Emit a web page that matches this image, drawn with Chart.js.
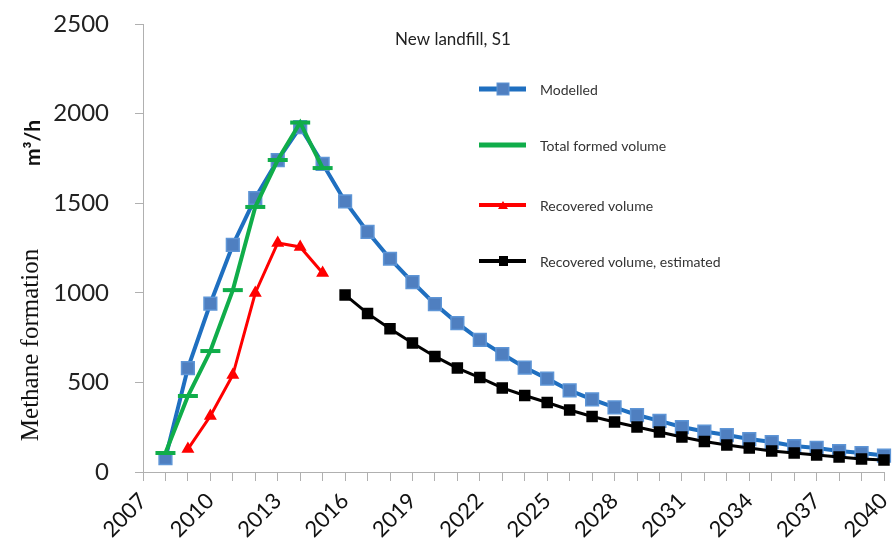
<!DOCTYPE html>
<html>
<head>
<meta charset="utf-8">
<script src="https://cdn.jsdelivr.net/npm/chart.js@4"></script>
<style>
  html, body { margin: 0; padding: 0; background: #fff; }
  #wrap { width: 892px; height: 549px; }
</style>
</head>
<body>
<div id="wrap"><canvas id="chart" width="892" height="549"></canvas></div>
<script>
const years = []
for (let y = 2007; y <= 2040; y++) years.push(String(y))

// values, m3/h, one per year (null = no point)
const modelled = [null, 78, 580, 940, 1267, 1529, 1741, 1925, 1720, 1510, 1340, 1190, 1060, 937, 831, 737, 658, 583, 521, 455, 405, 360, 318, 285, 251, 226, 206, 184, 167, 145, 134, 117, 106, 92]
const totalFormed = [null, 106, 424, 675, 1015, 1479, 1741, 1950, 1696]
const recovered = [null, null, 128, 312, 541, 999, 1278, 1256, 1110]
const estimated = [null, null, null, null, null, null, null, null, null, 988, 885, 800, 720, 645, 580, 527, 469, 427, 388, 346, 310, 279, 251, 223, 195, 170, 151, 134, 117, 106, 95, 84, 73, 67]

const yTicks = [0, 500, 1000, 1500, 2000, 2500]
const seriesNames = ['Modelled', 'Total formed volume', 'Recovered volume', 'Recovered volume, estimated']

const ctx = document.querySelector('#chart')
const FONT = 'Lato, "Open Sans", sans-serif'

// legend, title and axis title drawn by hand where the picture has them
const extras = {
    id: 'extras',
    afterDraw(chart) {
        const c = chart.ctx
        c.save()
        c.fillStyle = '#222'
        c.textAlign = 'center'
        c.textBaseline = 'middle'
        c.font = '17px ' + FONT
        c.fillText('New landfill, S1', 453, 40)

        const rows = [89, 145, 205, 261]
        chart.data.datasets.forEach((ds, i) => {
            const y = rows[i]
            c.strokeStyle = ds.borderColor
            c.lineWidth = ds.borderWidth + 1
            c.beginPath()
            c.moveTo(479, y)
            c.lineTo(526, y)
            c.stroke()
            if (i === 0) {
                c.fillStyle = ds.pointBackgroundColor
                c.strokeStyle = ds.pointBorderColor
                c.lineWidth = 1
                c.fillRect(497, y - 6, 12, 12)
                c.strokeRect(497, y - 6, 12, 12)
            } else if (i === 2) {
                c.fillStyle = ds.borderColor
                c.beginPath()
                c.moveTo(503, y - 4)
                c.lineTo(508, y + 4)
                c.lineTo(498, y + 4)
                c.closePath()
                c.fill()
            } else if (i === 3) {
                c.fillStyle = '#000'
                c.fillRect(499, y - 5, 9, 10)
            }
            c.fillStyle = '#333'
            c.textAlign = 'left'
            c.font = '14px ' + FONT
            c.fillText(ds.label, 540, y + 1)
        })

        c.translate(31, 0)
        c.rotate(-Math.PI / 2)
        c.textAlign = 'center'
        c.fillStyle = '#111'
        c.font = '25px "Liberation Serif", "Times New Roman", serif'
        c.fillText('Methane formation', -345, 0)
        c.font = 'bold 21px ' + FONT
        c.fillText('m³/h', -143, 2)
        c.restore()
    }
}

const data = {
    labels: years,
    datasets: [{
        label: seriesNames[0],
        data: modelled,
        borderColor: '#1f6fc0',
        borderWidth: 4,
        pointStyle: 'rect',
        pointRadius: 9,
        pointBackgroundColor: '#4f7fc0',
        pointBorderColor: '#5e95d6',
        pointBorderWidth: 1.5,
        order: 3
    }, {
        label: seriesNames[1],
        data: totalFormed,
        borderColor: '#10ad4a',
        borderWidth: 4,
        pointStyle: 'line',
        pointRadius: 10,
        pointBorderColor: '#10ad4a',
        pointBorderWidth: 4,
        order: 2
    }, {
        label: seriesNames[2],
        data: recovered,
        borderColor: '#ff0000',
        borderWidth: 3,
        pointStyle: 'triangle',
        pointRadius: 4.5,
        pointBackgroundColor: '#ff0000',
        pointBorderColor: '#ff0000',
        order: 1
    }, {
        label: seriesNames[3],
        data: estimated,
        borderColor: '#000',
        borderWidth: 3,
        pointStyle: 'rect',
        pointRadius: 6,
        pointBackgroundColor: '#000',
        pointBorderColor: '#000',
        order: 0
    }]
}

const config = {
    type: 'line',
    data: data,
    plugins: [extras],
    options: {
        responsive: false,
        animation: false,
        spanGaps: false,
        // big markers would otherwise push the plot area in
        layout: { autoPadding: false, padding: { top: 24, right: 8, left: 0, bottom: 0 } },
        scales: {
            x: {
                offset: false,
                afterFit(scale) {
                    scale.height = 77
                    scale.paddingLeft = 0
                    scale.paddingRight = 0
                },
                grid: {
                    drawOnChartArea: false,
                    color: '#b0b0b0',
                    tickLength: 9
                },
                border: { color: '#b0b0b0' },
                ticks: {
                    autoSkip: false,
                    minRotation: 45,
                    maxRotation: 45,
                    padding: 7,
                    color: '#111',
                    font: { family: FONT, size: 22 },
                    callback: function (value, index) {
                        return index % 3 === 0 ? years[index] : ''
                    }
                }
            },
            y: {
                min: 0,
                max: 2500,
                afterFit(scale) {
                    scale.width = 143
                    scale.paddingTop = 0
                    scale.paddingBottom = 0
                },
                afterBuildTicks(scale) {
                    scale.ticks = yTicks.map(v => ({ value: v }))
                },
                grid: {
                    drawOnChartArea: false,
                    color: '#b0b0b0',
                    tickLength: 8
                },
                border: { color: '#b0b0b0' },
                ticks: {
                    padding: 26,
                    color: '#222',
                    font: { family: FONT, size: 24 },
                    callback: v => String(v)
                }
            }
        },
        plugins: {
            legend: { display: false },
            tooltip: { enabled: false }
        }
    }
}

new Chart(ctx, config)
</script>
</body>
</html>
